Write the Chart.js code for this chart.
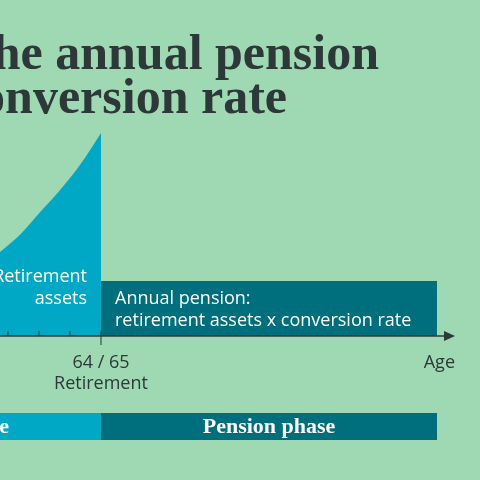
<!DOCTYPE html>
<html><head><meta charset="utf-8">
<script src="https://cdn.jsdelivr.net/npm/chart.js@4"></script>
<style>html,body{margin:0;padding:0;background:#9fd9b4;}#wrap{width:480px;height:480px;}</style>
</head><body><div id="wrap"><canvas id="chart"></canvas></div>
<script>
// x = age, y = assets (index, 100 at retirement)
const curveAges = [48.7, 51.9, 55.2, 58.4, 61.6, 65];
const curveAssets = [41.4, 49.8, 61.1, 71.9, 84.2, 100];
const retireAge = 65;
const pensionEndAge = 119.2;
const pensionLevel = 27.1;
const tickAges = [50, 55, 60, 65];
const axisEndAge = 122.1;
const phaseTop = -37.9, phaseBottom = -51.2;

const LIGHT = '#00a8c6', DARK = '#006f7d', INK = '#2d3838';

const overlay = {
  id: 'overlay',
  afterDatasetsDraw(chart) {
    const { ctx, scales: { x, y } } = chart;
    const y0 = y.getPixelForValue(0);
    ctx.save();
    // axis
    ctx.strokeStyle = INK; ctx.fillStyle = INK; ctx.lineWidth = 1.5;
    ctx.beginPath(); ctx.moveTo(x.getPixelForValue(x.min), y0);
    ctx.lineTo(x.getPixelForValue(axisEndAge) - 6, y0); ctx.stroke();
    const ax = x.getPixelForValue(axisEndAge);
    ctx.beginPath(); ctx.moveTo(ax, y0); ctx.lineTo(ax - 11, y0 - 5); ctx.lineTo(ax - 11, y0 + 5); ctx.closePath(); ctx.fill();
    ctx.lineWidth = 1;
    tickAges.forEach(a => {
      const px = x.getPixelForValue(a);
      ctx.beginPath(); ctx.moveTo(px, y0); ctx.lineTo(px, y0 - 5); ctx.stroke();
    });
    const rx = x.getPixelForValue(retireAge);
    ctx.beginPath(); ctx.moveTo(rx, y0); ctx.lineTo(rx, y0 + 9); ctx.stroke();
    // labels
    ctx.font = '18px "Source Sans Pro", "Open Sans", sans-serif';
    ctx.textAlign = 'center'; ctx.textBaseline = 'alphabetic';
    ctx.fillText('64 / 65', rx, 368);
    ctx.fillText('Retirement', rx, 389);
    ctx.textAlign = 'right';
    ctx.fillText('Age', 455, 368);
    ctx.fillStyle = '#ffffff';
    ctx.fillText('Retirement', 87, 282);
    ctx.fillText('assets', 87, 304);
    ctx.textAlign = 'left';
    ctx.fillText('Annual pension:', 115, 304);
    ctx.fillText('retirement assets x conversion rate', 115, 326);
    // phase labels
    ctx.font = 'bold 22px "Liberation Serif", serif';
    const yp = y.getPixelForValue((phaseTop + phaseBottom) / 2) + 7;
    ctx.textAlign = 'right';
    ctx.fillText('Savings phase', 9, yp);
    ctx.textAlign = 'center';
    ctx.fillText('Pension phase', (rx + x.getPixelForValue(pensionEndAge)) / 2, yp);
    // title
    ctx.fillStyle = INK;
    ctx.font = 'bold 50px "Liberation Serif", serif';
    ctx.textAlign = 'right';
    ctx.fillText('the annual pension', 379, 69);
    ctx.fillText('conversion rate', 287, 113);
    ctx.restore();
  }
};

new Chart(document.getElementById('chart'), {
  type: 'scatter',
  data: {
    datasets: [
      { data: curveAges.map((a, i) => ({ x: a, y: curveAssets[i] })),
        showLine: true, cubicInterpolationMode: 'monotone', fill: { value: 0 }, backgroundColor: LIGHT, borderWidth: 0, pointRadius: 0 },
      { data: [{ x: retireAge, y: pensionLevel }, { x: pensionEndAge, y: pensionLevel }],
        showLine: true, fill: { value: 0 }, backgroundColor: DARK, borderWidth: 0, pointRadius: 0 },
      { data: [{ x: 40, y: phaseTop }, { x: retireAge, y: phaseTop }],
        showLine: true, fill: { value: phaseBottom }, backgroundColor: LIGHT, borderWidth: 0, pointRadius: 0 },
      { data: [{ x: retireAge, y: phaseTop }, { x: pensionEndAge, y: phaseTop }],
        showLine: true, fill: { value: phaseBottom }, backgroundColor: DARK, borderWidth: 0, pointRadius: 0 }
    ]
  },
  options: {
    responsive: true, maintainAspectRatio: false, animation: false,
    layout: { padding: 0 },
    plugins: { legend: { display: false }, tooltip: { enabled: false } },
    scales: {
      x: { type: 'linear', display: false, min: 48.71, max: 126.13 },
      y: { display: false, min: -70.9, max: 165.5 }
    }
  },
  plugins: [overlay]
});
</script></body></html>
